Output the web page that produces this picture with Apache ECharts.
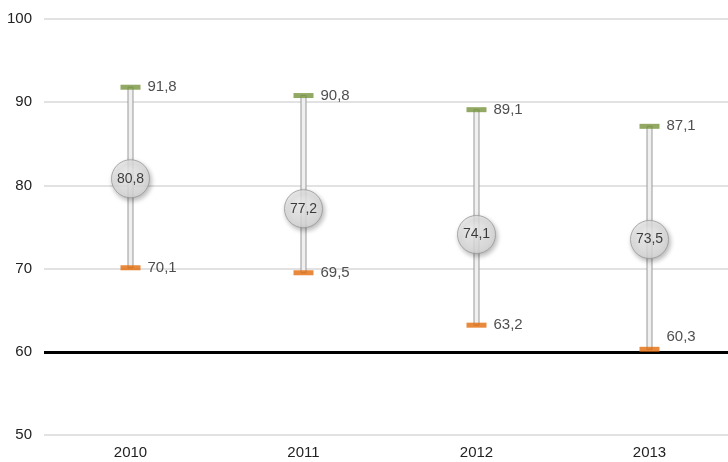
<!DOCTYPE html>
<html>
<head>
<meta charset="utf-8">
<script src="https://cdn.jsdelivr.net/npm/echarts@6/dist/echarts.min.js"></script>
<style>
  html, body { margin: 0; padding: 0; background: #fff; overflow: hidden; }
  #chart { width: 738px; height: 462px; }
</style>
</head>
<body>
<div id="chart"></div>
<script>
// data
const years = ['2010', '2011', '2012', '2013']
const highValues = [91.8, 90.8, 89.1, 87.1]
const meanValues = [80.8, 77.2, 74.1, 73.5]
const lowValues = [70.1, 69.5, 63.2, 60.3]
const yTicks = [50, 60, 70, 80, 90, 100]

const fmt = v => String(v.value !== undefined ? v.value[1] : v).replace('.', ',')
const font = 'Liberation Sans, Arial, sans-serif'
const textColor = '#222'

const chart = echarts.init(document.getElementById('chart'))

const options = {
  animation: false,
  grid: { left: 44, right: 2, top: 19, bottom: 27 },
  xAxis: {
    type: 'category',
    data: years,
    axisLine: { show: false },
    axisTick: { show: false },
    axisLabel: { color: textColor, fontSize: 15, fontFamily: font, margin: 10 }
  },
  yAxis: {
    type: 'value',
    min: yTicks[0],
    max: yTicks[yTicks.length - 1],
    interval: 10,
    axisLine: { show: false },
    axisTick: { show: false },
    axisLabel: { color: textColor, fontSize: 15, fontFamily: font, margin: 12 },
    splitLine: { lineStyle: { color: '#d9d9d9', width: 1.5 } }
  },
  series: [
    {
      // whiskers from low to high
      type: 'custom',
      z: 2,
      data: years.map((y, i) => [i, lowValues[i], highValues[i]]),
      renderItem(params, api) {
        const lo = api.coord([api.value(0), api.value(1)])
        const hi = api.coord([api.value(0), api.value(2)])
        return {
          type: 'rect',
          shape: { x: lo[0] - 2.5, y: hi[1], width: 5, height: lo[1] - hi[1] },
          style: { fill: '#f0f0f0', stroke: '#999', lineWidth: 1 }
        }
      },
      markLine: {
        silent: true,
        symbol: 'none',
        label: { show: false },
        lineStyle: { color: '#000', width: 3, type: 'solid' },
        data: [{ yAxis: 60 }]
      }
    },
    {
      type: 'scatter',
      z: 5,
      symbol: 'rect',
      symbolSize: [20, 5],
      itemStyle: { color: '#77933c' },
      data: highValues.map((v, i) => [i, v]),
      label: {
        show: true, position: 'right', distance: 7,
        color: textColor, fontSize: 15, fontFamily: font, formatter: fmt
      }
    },
    {
      type: 'scatter',
      z: 5,
      symbol: 'rect',
      symbolSize: [20, 5],
      itemStyle: { color: '#e46c0a' },
      // keep the label off the thick 60 line
      data: lowValues.map((v, i) => v < 61
        ? { value: [i, v], label: { offset: [0, -12] } }
        : [i, v]),
      label: {
        show: true, position: 'right', distance: 7,
        color: textColor, fontSize: 15, fontFamily: font, formatter: fmt
      }
    },
    {
      type: 'scatter',
      z: 6,
      symbol: 'circle',
      symbolSize: 38,
      itemStyle: {
        color: new echarts.graphic.RadialGradient(0.4, 0.35, 0.7, [
          { offset: 0, color: '#f4f4f4' },
          { offset: 1, color: '#d8d8d8' }
        ]),
        borderColor: '#999',
        borderWidth: 1,
        shadowColor: 'rgba(0,0,0,0.35)',
        shadowBlur: 5,
        shadowOffsetX: 1.5,
        shadowOffsetY: 2.5
      },
      data: meanValues.map((v, i) => [i, v]),
      label: {
        show: true, position: 'inside',
        color: '#111', fontSize: 14, fontFamily: font, formatter: fmt
      }
    }
  ]
}

chart.setOption(options)
</script>
</body>
</html>
